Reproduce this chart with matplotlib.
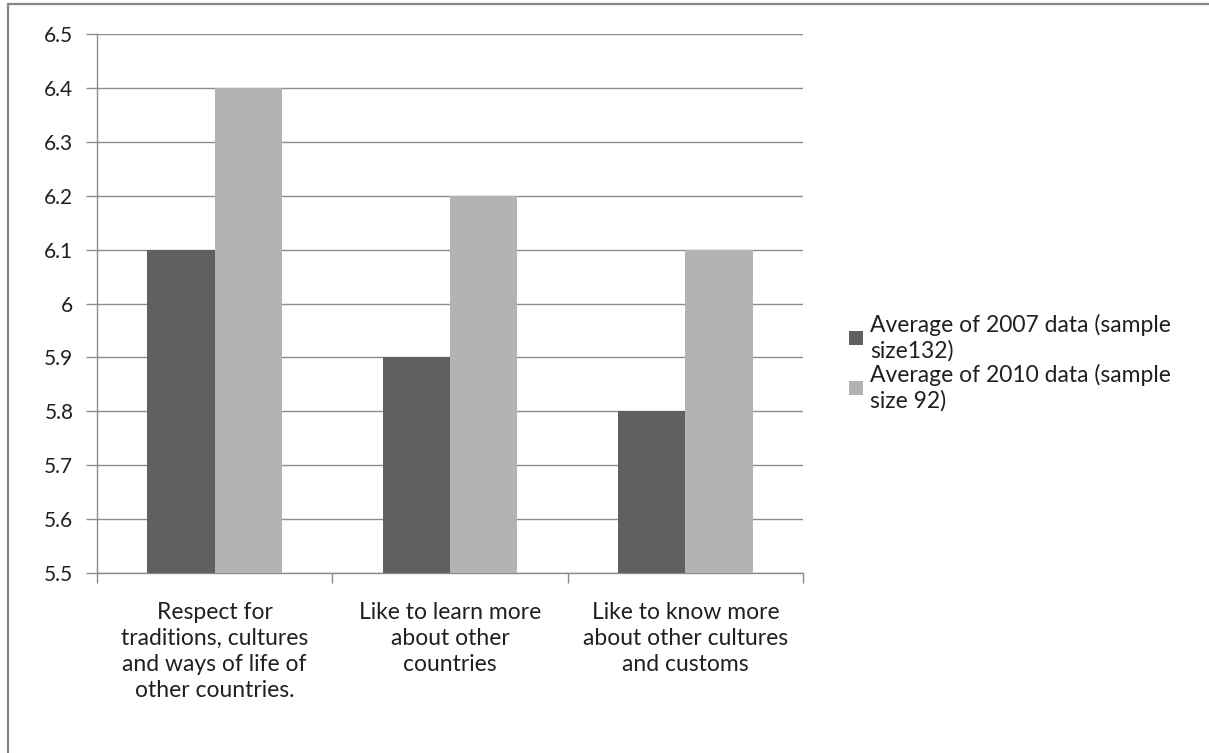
import numpy as np
import matplotlib
matplotlib.use('Agg')
import matplotlib.pyplot as plt
from matplotlib.patches import Rectangle

plt.rcParams['font.family'] = ['Lato', 'DejaVu Sans']

# ── 数据 ──────────────────────────────────────────────
categories = ['Respect for\ntraditions, cultures\nand ways of life of\nother countries.',
              'Like to learn more\nabout other\ncountries',
              'Like to know more\nabout other cultures\nand customs']
avg_2007 = [6.1, 5.9, 5.8]
avg_2010 = [6.4, 6.2, 6.1]
series_labels = ['Average of 2007 data (sample\nsize132)',
                 'Average of 2010 data (sample\nsize 92)']
y_ticks = [5.5, 5.6, 5.7, 5.8, 5.9, 6.0, 6.1, 6.2, 6.3, 6.4, 6.5]
y_tick_labels = ['5.5', '5.6', '5.7', '5.8', '5.9', '6', '6.1', '6.2', '6.3', '6.4', '6.5']

W, H = 1209, 753
fig = plt.figure(figsize=(W / 100, H / 100), dpi=100)
fig.patch.set_facecolor('white')

# 外框（只露出上边和左边）
fig.add_artist(Rectangle((8 / W, -0.05), 1.1, 1 - 4 / H + 0.05,
                         transform=fig.transFigure, fill=False,
                         edgecolor='#868686', linewidth=1.6))

ax = fig.add_axes([97 / W, 1 - 573 / H, (803 - 97) / W, (573 - 34) / H])

x = np.arange(len(categories))
bw = 1 / 3.5
ax.bar(x - bw / 2, np.array(avg_2007) - 5.5, bw, bottom=5.5, color='#606060',
       label=series_labels[0], zorder=3)
ax.bar(x + bw / 2, np.array(avg_2010) - 5.5, bw, bottom=5.5, color='#b3b3b3',
       label=series_labels[1], zorder=3)

ax.set_xlim(-0.5, len(categories) - 0.5)
ax.set_ylim(5.5, 6.5)
ax.set_yticks(y_ticks)
ax.set_yticklabels(y_tick_labels, fontsize=15, color='#202020')
ax.yaxis.grid(True, color='#8c8c8c', linewidth=1.0, zorder=0)

# 类别分隔刻度
ax.set_xticks(np.arange(len(categories) + 1) - 0.5)
ax.set_xticklabels([])
ax.set_xticks(x, minor=True)
ax.set_xticklabels(categories, minor=True, fontsize=16.5, color='#202020',
                   linespacing=1.3, va='top')
ax.tick_params(axis='x', which='minor', length=0, pad=21)
ax.tick_params(axis='x', which='major', length=7, color='#8c8c8c', width=1)
ax.tick_params(axis='y', length=8, color='#8c8c8c', width=1, pad=9)

for s in ['top', 'right']:
    ax.spines[s].set_visible(False)
for s in ['left', 'bottom']:
    ax.spines[s].set_color('#8c8c8c')
    ax.spines[s].set_linewidth(1.0)

ax.legend(loc='upper left', bbox_to_anchor=(840 / W, 1 - 305 / H),
          bbox_transform=fig.transFigure, frameon=False, fontsize=16.5,
          handlelength=0.6, handleheight=0.6, handletextpad=0.3,
          labelspacing=0.12, borderaxespad=0, labelcolor='#202020')

fig.savefig('out.png', dpi=100)
